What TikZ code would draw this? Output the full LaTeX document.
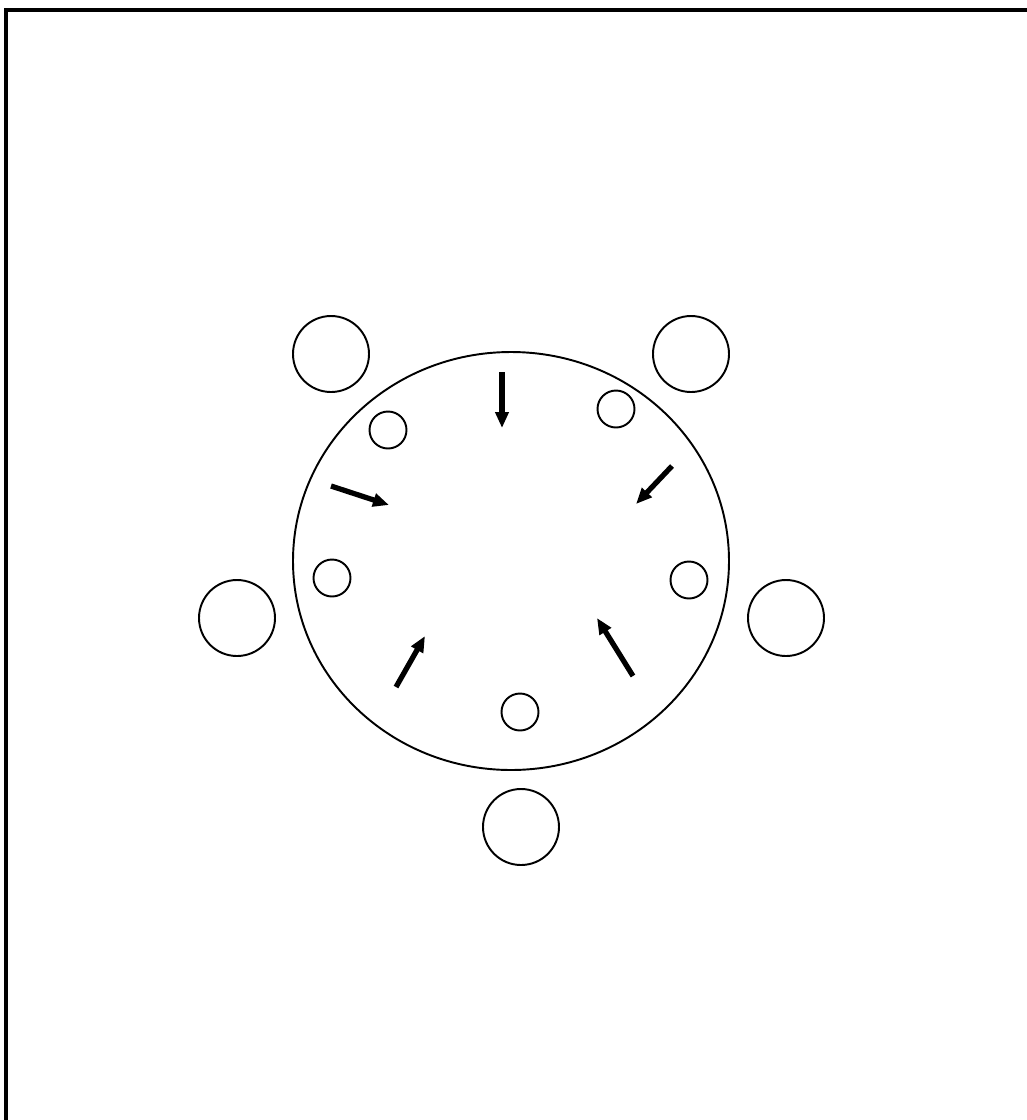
\documentclass[tikz,border=0pt]{standalone}
\usetikzlibrary{arrows.meta}

\begin{document}
\begin{tikzpicture}[
  x=0.02cm, y=-0.02cm,
  frame/.style ={line width=2pt},
  table/.style ={line width=1.1pt},
  seat/.style  ={draw, circle, line width=1.1pt, minimum size=76*0.02cm, inner sep=0pt},
  plate/.style ={draw, circle, line width=1.1pt, minimum size=37*0.02cm, inner sep=0pt},
  arr/.style   ={-{Triangle[length=3.2mm, width=2.6mm]}, line width=3pt},
]
  \useasboundingbox (0,0) rectangle (1027,1120);
  \draw[frame] (6,1120) -- (6,10) -- (1027,10);

  % table
  \draw[table] (511,561) ellipse [x radius=218, y radius=209];

  % seats round the table
  \node[seat] (seatNW) at (331,354) {};
  \node[seat] (seatNE) at (691,354) {};
  \node[seat] (seatW)  at (237,618) {};
  \node[seat] (seatE)  at (786,618) {};
  \node[seat] (seatS)  at (521,827) {};

  % plates on the table
  \node[plate] (plateNW) at (388,430) {};
  \node[plate] (plateNE) at (616,409) {};
  \node[plate] (plateW)  at (332,578) {};
  \node[plate] (plateE)  at (689,580) {};
  \node[plate] (plateS)  at (520,712) {};

  % arrows
  \coordinate (aN1)  at (502,372); \coordinate (aN2)  at (502,428);
  \coordinate (aNE1) at (672,466); \coordinate (aNE2) at (636,504);
  \coordinate (aW1)  at (331,486); \coordinate (aW2)  at (389,505);
  \coordinate (aSW1) at (396,687); \coordinate (aSW2) at (425,636);
  \coordinate (aSE1) at (633,676); \coordinate (aSE2) at (597,618);

  \draw[arr] (aN1)  -- (aN2);
  \draw[arr] (aNE1) -- (aNE2);
  \draw[arr] (aW1)  -- (aW2);
  \draw[arr] (aSW1) -- (aSW2);
  \draw[arr] (aSE1) -- (aSE2);
\end{tikzpicture}
\end{document}
